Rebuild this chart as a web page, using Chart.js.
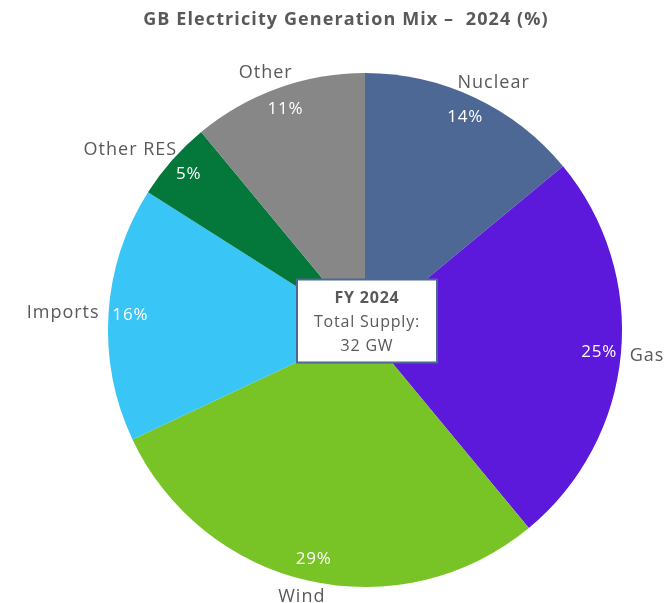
<!DOCTYPE html>
<html>
<head>
<meta charset="utf-8">
<script src="https://cdn.jsdelivr.net/npm/chart.js@4"></script>
<style>
  html, body { margin: 0; padding: 0; background: #fff; }
  #wrap { width: 667px; height: 603px; }
</style>
</head>
<body>
<div id="wrap"><canvas id="mixChart" width="667" height="603"></canvas></div>
<script>
// data
const categories = ['Nuclear', 'Gas', 'Wind', 'Imports', 'Other RES', 'Other'];
const shares = [14, 25, 29, 16, 5, 11];
const sliceColors = ['#4d6895', '#5c18db', '#78c326', '#39c5f5', '#04773a', '#878787'];
const chartTitle = 'GB Electricity Generation Mix \u2013  2024 (%)';
const centerBox = ['FY 2024', 'Total Supply:', '32 GW'];

const textGrey = '#595959';
const fontFamily = '"Open Sans", Lato, sans-serif';

// draws title, slice labels and the centre box
const labelPlugin = {
    id: 'mixLabels',
    afterDraw(chart) {
        const ctx = chart.ctx;
        const arcs = chart.getDatasetMeta(0).data;
        ctx.save();

        // title
        ctx.fillStyle = textGrey;
        ctx.font = 'bold 18px ' + fontFamily;
        ctx.letterSpacing = '1.1px';
        ctx.textAlign = 'center';
        ctx.textBaseline = 'middle';
        ctx.fillText(chartTitle, 346, 20);

        arcs.forEach((arc, i) => {
            const mid = (arc.startAngle + arc.endAngle) / 2;
            const cx = arc.x, cy = arc.y, r = arc.outerRadius;
            const c = Math.cos(mid), s = Math.sin(mid);

            // percentage inside, near the edge
            ctx.font = '17px ' + fontFamily;
            ctx.letterSpacing = '0.8px';
            ctx.fillStyle = '#ffffff';
            ctx.fillText(shares[i] + '%', cx + c * r * 0.915, cy + s * r * 0.915);

            // category name outside
            ctx.font = '18px ' + fontFamily;
            ctx.letterSpacing = '1px';
            ctx.fillStyle = textGrey;
            const w = ctx.measureText(categories[i]).width;
            const h = 14;
            const ax = cx + c * (r + 9), ay = cy + s * (r + 9);
            ctx.fillText(categories[i], ax + c * w / 2, ay + s * h / 2);
        });

        // centre box
        const a0 = arcs[0];
        const bw = 140, bh = 83;
        const bx = a0.x - bw / 2 + 2, by = a0.y - bh / 2 - 9;
        ctx.fillStyle = '#ffffff';
        ctx.fillRect(bx, by, bw, bh);
        ctx.strokeStyle = '#4d6895';
        ctx.lineWidth = 2;
        ctx.strokeRect(bx, by, bw, bh);
        ctx.fillStyle = textGrey;
        ctx.letterSpacing = '0.8px';
        centerBox.forEach((t, k) => {
            ctx.font = (k === 0 ? 'bold ' : '') + '16px ' + fontFamily;
            ctx.fillText(t, bx + bw / 2, by + 19 + k * 24);
        });

        ctx.restore();
    }
};

new Chart(document.getElementById('mixChart'), {
    type: 'pie',
    data: {
        labels: categories,
        datasets: [{
            data: shares,
            backgroundColor: sliceColors,
            borderWidth: 0
        }]
    },
    options: {
        responsive: false,
        animation: false,
        layout: {
            padding: { top: 73, bottom: 16, left: 108, right: 45 }
        },
        plugins: {
            legend: { display: false },
            title: { display: false },
            tooltip: { enabled: false }
        }
    },
    plugins: [labelPlugin]
});
</script>
</body>
</html>
